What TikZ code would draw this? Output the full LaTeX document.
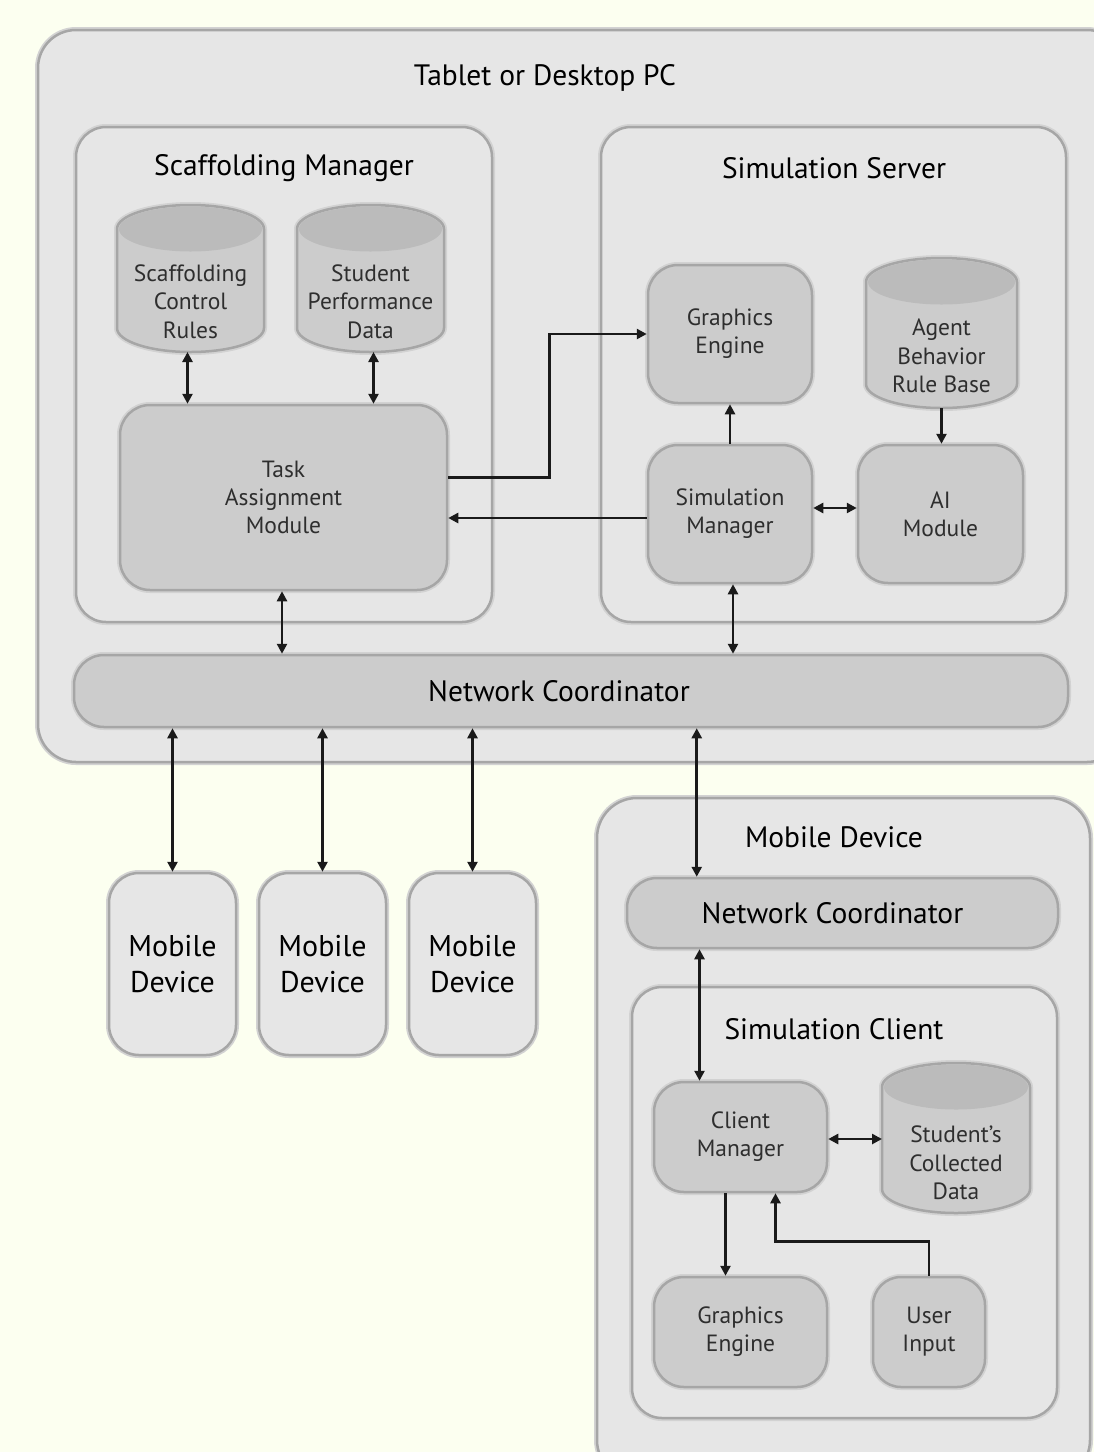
\documentclass[tikz,border=0pt]{standalone}
\usepackage{fontspec}
\setmainfont{PT Sans}
\usetikzlibrary{arrows.meta,calc}
\definecolor{bgcol}{HTML}{FCFFF0}
\definecolor{outerfill}{HTML}{E6E6E6}
\definecolor{innerfill}{HTML}{CCCCCC}
\definecolor{topfill}{HTML}{BBBBBB}
\definecolor{edgecol}{HTML}{A6A6A6}
\definecolor{halocol}{HTML}{D2D2D2}
\definecolor{inktext}{HTML}{2E2E2E}
\definecolor{arrowcol}{HTML}{1A1A1A}
\tikzset{
  halo/.style={preaction={draw=halocol,line width=6pt}},
  container/.style={halo,draw=edgecol,line width=2.5pt,fill=outerfill},
  module/.style={halo,draw=edgecol,line width=2.5pt,fill=innerfill,
    rounded corners=30pt,inner sep=0pt,align=center,text=inktext,
    font=\fontsize{23.5}{28}\selectfont},
  mobilebox/.style={halo,draw=edgecol,line width=2.5pt,fill=outerfill,
    rounded corners=30pt,inner sep=0pt,align=center,text=black,
    font=\fontsize{30}{36}\selectfont},
  netbox/.style={halo,draw=edgecol,line width=2.5pt,fill=innerfill,
    rounded corners=30pt,inner sep=0pt,text=black,
    font=\fontsize{29.5}{32}\selectfont},
  titletext/.style={text=black,font=\fontsize{29.5}{32}\selectfont,inner sep=0pt},
  cyllabel/.style={text=inktext,align=center,font=\fontsize{23.5}{28.5}\selectfont,inner sep=0pt},
  cylbox/.style={draw=none,inner sep=0pt,outer sep=0pt},
  cylbody/.style={halo,draw=edgecol,line width=2.5pt,fill=innerfill},
  cyltop/.style={fill=topfill},
  link/.style={draw=arrowcol,line width=2.6pt,-{Triangle[length=10pt,width=10pt]}},
  dlink/.style={draw=arrowcol,line width=2.6pt,{Triangle[length=10pt,width=10pt]}-{Triangle[length=10pt,width=10pt]}},
}
% name, xc, yc, w, h, text, label offset
\newcommand\dbcyl[7]{%
  \node[cylbox,minimum width=#4pt,minimum height=#5pt] (#1) at (#2,#3) {};
  \pgfmathsetmacro\cylr{#4/2}%
  \draw[cylbody] ([yshift=-24pt]#1.north west) -- ([yshift=24pt]#1.south west)
    arc[start angle=180,end angle=360,x radius=\cylr pt,y radius=24pt]
    -- ([yshift=-24pt]#1.north east)
    arc[start angle=0,end angle=180,x radius=\cylr pt,y radius=24pt] -- cycle;
  \fill[cyltop] ([yshift=-24pt]#1.north) ellipse[x radius=\cylr pt-2pt,y radius=22.5pt];
  \node[cyllabel] (#1-label) at ([yshift=-#7pt]#1.center) {#6};
}
\begin{document}
\begin{tikzpicture}[x=1pt,y=-1pt]
\useasboundingbox (0,0) rectangle (1094,1452);
\clip (0,0) rectangle (1094,1452);
\fill[bgcol] (0,0) rectangle (1094,1452);

% containers
\draw[container,rounded corners=38pt] (38,30) rectangle (1125,762);
\node[titletext] (pctitle) at (545,78) {Tablet or Desktop PC};
\draw[container,rounded corners=30pt] (76,127) rectangle (492,622);
\node[titletext] (smtitle) at (284,168) {Scaffolding Manager};
\draw[container,rounded corners=30pt] (601,127) rectangle (1066,622);
\node[titletext] (sstitle) at (834,168) {Simulation Server};

% scaffolding manager contents
\dbcyl{scr}{190.5}{278.5}{147}{147}{Scaffolding\\Control\\Rules}{23}
\dbcyl{spd}{370.5}{278.5}{147}{147}{Student\\Performance\\Data}{23}
\node[module,minimum width=327pt,minimum height=185pt] (tam) at (283.5,497.5) {Task\\Assignment\\Module};

% simulation server contents
\node[module,minimum width=164pt,minimum height=138pt] (ge1) at (730,334) {Graphics\\Engine};
\dbcyl{abr}{941.5}{333}{151}{150}{Agent\\Behavior\\Rule Base}{23}
\node[module,minimum width=164pt,minimum height=138pt] (sm) at (730,514) {Simulation\\Manager};
\node[module,minimum width=165pt,minimum height=138pt] (ai) at (940.5,514) {AI\\Module};

% network coordinator
\node[netbox,minimum width=994pt,minimum height=72pt] (nc) at (571,691) {\hspace*{-24pt}Network Coordinator};

% mobile devices
\node[mobilebox,minimum width=127pt,minimum height=182pt] (md1) at (172.5,964) {Mobile\\Device};
\node[mobilebox,minimum width=127pt,minimum height=182pt] (md2) at (322.5,964) {Mobile\\Device};
\node[mobilebox,minimum width=127pt,minimum height=182pt] (md3) at (472.5,964) {Mobile\\Device};

% mobile device (detailed)
\draw[container,rounded corners=40pt] (597,798) rectangle (1090,1480);
\node[titletext] (mdtitle) at (834,837) {Mobile Device};
\node[netbox,minimum width=431pt,minimum height=70pt] (nc2) at (842.5,913) {\hspace*{-20pt}Network Coordinator};
\draw[container,rounded corners=30pt] (632,987) rectangle (1057,1418);
\node[titletext] (sctitle) at (834,1029) {Simulation Client};
\node[module,minimum width=173pt,minimum height=110pt] (cm) at (740.5,1137) {Client\\Manager};
\dbcyl{scd}{956}{1138}{148}{150}{Student's\\Collected\\Data}{25}
\node[module,minimum width=173pt,minimum height=110pt] (ge2) at (740.5,1332) {Graphics\\Engine};
\node[module,minimum width=112pt,minimum height=110pt,rounded corners=28pt] (ui) at (929,1332) {User\\Input};

% connectors: scaffolding manager
\draw[dlink] ([xshift=-3pt]scr.south) -- ([xshift=-3pt]scr.south |- tam.north);
\draw[dlink] ([xshift=3pt]spd.south) -- ([xshift=3pt]spd.south |- tam.north);
\draw[link] ([yshift=20pt]tam.east) -- ++(101,0) |- (ge1.west);
\draw[link] ([yshift=-4pt]sm.west) -- ([yshift=-4pt]sm.west -| tam.east);
% simulation server
\draw[link] (sm.north) -- (ge1.south);
\draw[dlink] ([yshift=6pt]sm.east) -- ([yshift=6pt]ai.west);
\draw[link] (abr.south) -- (abr.south |- ai.north);
% to network coordinator
\draw[dlink] ([xshift=-1.5pt]tam.south) -- ([xshift=-1.5pt]tam.south |- nc.north);
\draw[dlink] ([xshift=3pt]sm.south) -- ([xshift=3pt]sm.south |- nc.north);
% to mobile devices
\draw[dlink] (md1.north |- nc.south) -- (md1.north);
\draw[dlink] (md2.north |- nc.south) -- (md2.north);
\draw[dlink] (md3.north |- nc.south) -- (md3.north);
\draw[dlink] ([xshift=71pt]nc2.north west |- nc.south) -- ([xshift=71pt]nc2.north west);
% simulation client
\draw[dlink] ([xshift=-41pt]cm.north |- nc2.south) -- ([xshift=-41pt]cm.north);
\draw[dlink] ([yshift=-2pt]cm.east) -- ([yshift=-2pt]cm.east -| scd.west);
\draw[link] ([xshift=-15pt]cm.south) -- ([xshift=-15pt]cm.south |- ge2.north);
\draw[link] (ui.north) -- ++(0,-34) -| ([xshift=35pt]cm.south);
\end{tikzpicture}
\end{document}
